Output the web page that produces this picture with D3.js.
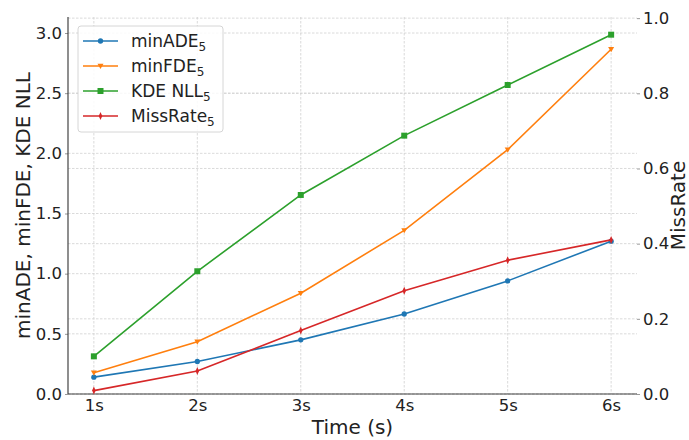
<!DOCTYPE html>
<html>
<head>
<meta charset="utf-8">
<script src="https://cdn.jsdelivr.net/npm/d3@7"></script>
<style>
body { margin: 0; background: #fff; }
text { font-family: "DejaVu Sans", sans-serif; fill: #222; }
</style>
</head>
<body>
<script>
var w = 689;
var h = 440;

// data
var times = [1, 2, 3, 4, 5, 6];
var timeLabels = ["1s", "2s", "3s", "4s", "5s", "6s"];
var minADE = [0.14, 0.27, 0.45, 0.665, 0.94, 1.27];
var minFDE = [0.177, 0.435, 0.837, 1.36, 2.03, 2.865];
var kdeNLL = [0.313, 1.02, 1.654, 2.147, 2.568, 2.986];
var missRate = [0.009, 0.061, 0.169, 0.275, 0.356, 0.41];
var leftTicks = [0, 0.5, 1.0, 1.5, 2.0, 2.5, 3.0];
var rightTicks = [0, 0.2, 0.4, 0.6, 0.8, 1.0];

var pL = 68, pR = 637, pT = 17, pB = 394;

var svg = d3.select("body").append("svg")
            .attr("width", w)
            .attr("height", h);

var x = d3.scaleLinear().domain([0.75, 6.25]).range([pL, pR]);
var yL = d3.scaleLinear().domain([0, 3.133]).range([pB, pT]);
var yR = d3.scaleLinear().domain([0, 1.003]).range([pB, pT]);

// grid
var grid = svg.append("g")
  .attr("stroke", "#d0d0d0")
  .attr("stroke-width", 0.8)
  .attr("stroke-dasharray", "2.5,1.5");
grid.selectAll(".gx").data(times).enter().append("line")
  .attr("x1", function(d) { return x(d); }).attr("x2", function(d) { return x(d); })
  .attr("y1", pT).attr("y2", pB);
grid.selectAll(".gl").data(leftTicks).enter().append("line")
  .attr("x1", pL).attr("x2", pR)
  .attr("y1", function(d) { return yL(d); }).attr("y2", function(d) { return yL(d); });
grid.selectAll(".gr").data(rightTicks).enter().append("line")
  .attr("x1", pL).attr("x2", pR)
  .attr("y1", function(d) { return yR(d); }).attr("y2", function(d) { return yR(d); });

// axes
var xAxis = d3.axisBottom(x).tickValues(times)
  .tickFormat(function(d, i) { return timeLabels[i]; })
  .tickSize(0).tickPadding(5);
var lAxis = d3.axisLeft(yL).tickValues(leftTicks)
  .tickFormat(d3.format(".1f")).tickSize(3).tickPadding(3);
var rAxis = d3.axisRight(yR).tickValues(rightTicks)
  .tickFormat(d3.format(".1f")).tickSize(3).tickPadding(3);

function styleAxis(g) {
  g.select(".domain").remove();
  g.selectAll(".tick line").attr("stroke", "#999");
  g.selectAll(".tick text").style("font-size", "16.5px").attr("fill", "#222");
}

svg.append("g").attr("transform", "translate(0," + pB + ")").call(xAxis).call(styleAxis);
svg.append("g").attr("transform", "translate(" + pL + ",0)").call(lAxis).call(styleAxis);
svg.append("g").attr("transform", "translate(" + pR + ",0)").call(rAxis).call(styleAxis);

// spines
svg.append("line").attr("x1", pL).attr("x2", pL).attr("y1", pT).attr("y2", pB)
  .attr("stroke", "#444").attr("stroke-width", 1.2);
svg.append("line").attr("x1", pL).attr("x2", pR).attr("y1", pB).attr("y2", pB)
  .attr("stroke", "#444").attr("stroke-width", 1.2);

// axis titles
svg.append("text").attr("x", (pL + pR) / 2).attr("y", 434)
  .attr("text-anchor", "middle").style("font-size", "20px").text("Time (s)");
svg.append("text").attr("transform", "translate(30," + (pT + pB) / 2 + ") rotate(-90)")
  .attr("text-anchor", "middle").style("font-size", "20px").text("minADE, minFDE, KDE NLL");
svg.append("text").attr("transform", "translate(684.5," + (pT + pB) / 2 + ") rotate(-90)")
  .attr("text-anchor", "middle").style("font-size", "20px").text("MissRate");

// series
var series = [
  {name: "minADE", values: minADE, y: yL, color: "#1f77b4", marker: "circle"},
  {name: "minFDE", values: minFDE, y: yL, color: "#ff7f0e", marker: "tri"},
  {name: "KDE NLL", values: kdeNLL, y: yL, color: "#2ca02c", marker: "square"},
  {name: "MissRate", values: missRate, y: yR, color: "#d62728", marker: "diamond"}
];

function markerPath(type) {
  if (type === "circle") return d3.symbol().type(d3.symbolCircle).size(22)();
  if (type === "square") return "M-3,-3L3,-3L3,3L-3,3Z";
  if (type === "tri") return "M-3,-2.2L3,-2.2L0,3Z";
  return "M0,-4L1.8,0L0,4L-1.8,0Z";
}

series.forEach(function(s) {
  var line = d3.line()
    .x(function(d, i) { return x(times[i]); })
    .y(function(d) { return s.y(d); });
  svg.append("path").datum(s.values)
    .attr("d", line).attr("fill", "none")
    .attr("stroke", s.color).attr("stroke-width", 1.6);
  svg.selectAll(null).data(s.values).enter().append("path")
    .attr("d", markerPath(s.marker))
    .attr("transform", function(d, i) { return "translate(" + x(times[i]) + "," + s.y(d) + ")"; })
    .attr("fill", s.color);
});

// legend
var lg = svg.append("g").attr("transform", "translate(78,26)");
lg.append("rect").attr("width", 145).attr("height", 106).attr("rx", 3)
  .attr("fill", "#fff").attr("fill-opacity", 0.85)
  .attr("stroke", "#ccc").attr("stroke-width", 0.8);
series.forEach(function(s, i) {
  var yy = 15 + i * 25;
  lg.append("line").attr("x1", 5).attr("x2", 40).attr("y1", yy).attr("y2", yy)
    .attr("stroke", s.color).attr("stroke-width", 1.6);
  lg.append("path").attr("d", markerPath(s.marker))
    .attr("transform", "translate(22.5," + yy + ")").attr("fill", s.color);
  var t = lg.append("text").attr("x", 53).attr("y", yy + 6).style("font-size", "17px");
  t.append("tspan").text(s.name);
  t.append("tspan").attr("dy", 4).style("font-size", "12px").text("5");
});
</script>
</body>
</html>
